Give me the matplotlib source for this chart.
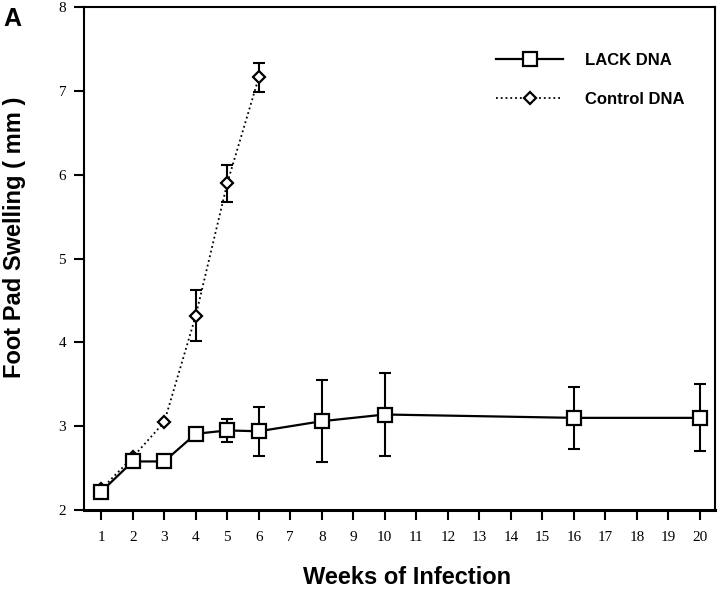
import matplotlib
matplotlib.use('Agg')
import matplotlib.pyplot as plt

# data
weeks_lack = [1, 2, 3, 4, 5, 6, 8, 10, 16, 20]
swell_lack = [2.22, 2.58, 2.58, 2.91, 2.95, 2.94, 3.06, 3.14, 3.10, 3.10]
err_lack = [0, 0, 0, 0, 0.14, 0.29, 0.49, 0.50, 0.37, 0.40]

weeks_ctrl = [1, 2, 3, 4, 5, 6]
swell_ctrl = [2.25, 2.63, 3.05, 4.32, 5.90, 7.16]
err_ctrl = [0, 0, 0, 0.30, 0.22, 0.17]

xticks = list(range(1, 21))
yticks = [2, 3, 4, 5, 6, 7, 8]

fig = plt.figure(figsize=(7.2, 5.89), dpi=100)
ax = fig.add_axes([0.117, 0.134, 0.876, 0.854])

ax.errorbar(weeks_ctrl, swell_ctrl, yerr=err_ctrl, fmt='none', ecolor='black',
            elinewidth=1.5, capsize=4.5, capthick=1.5, zorder=2)
ax.plot(weeks_ctrl, swell_ctrl, linestyle=':', color='black', linewidth=1.3,
        marker='D', markersize=6, markerfacecolor='white', markeredgecolor='black',
        markeredgewidth=1.6, label='Control DNA', zorder=3)

ax.errorbar(weeks_lack, swell_lack, yerr=err_lack, fmt='none', ecolor='black',
            elinewidth=1.5, capsize=4.5, capthick=1.5, zorder=4)
ax.plot(weeks_lack, swell_lack, linestyle='-', color='black', linewidth=1.6,
        marker='s', markersize=10, markerfacecolor='white', markeredgecolor='black',
        markeredgewidth=1.6, label='LACK DNA', zorder=5)

ax.set_xlim(0.46, 20.48)
ax.set_ylim(2, 8)
ax.set_xticks(xticks)
ax.set_yticks(yticks)

tick_font = {'family': 'Liberation Serif', 'size': 11}
ax.set_xticklabels([str(t) for t in xticks], fontdict=tick_font)
ax.set_yticklabels([str(t) for t in yticks], fontdict=tick_font)
ax.tick_params(axis='both', direction='out', length=7, width=1.5, color='black')
ax.tick_params(axis='x', pad=8)
ax.tick_params(axis='y', pad=6)

for side in ['left', 'top', 'right']:
    ax.spines[side].set_linewidth(1.5)
ax.spines['bottom'].set_linewidth(2.2)

ax.set_xlabel('Weeks of Infection', fontsize=17, fontweight='bold',
              family='Liberation Sans')
ax.xaxis.set_label_coords(0.512, -0.112)
ax.set_ylabel('Foot Pad Swelling ( mm )', fontsize=17, fontweight='bold',
              family='Liberation Sans')
ax.yaxis.set_label_coords(-0.092, 0.543)

handles, labels = ax.get_legend_handles_labels()
leg = ax.legend(handles[::-1], labels[::-1], loc='upper left', frameon=False,
                bbox_to_anchor=(0.643, 0.922), borderaxespad=0,
                handlelength=4, handletextpad=1.3, labelspacing=1.45,
                prop={'family': 'Liberation Sans', 'weight': 'bold', 'size': 12})

fig.text(0.004, 0.988, 'A', fontsize=18, fontweight='bold', family='Liberation Sans',
         va='top', ha='left')

fig.savefig('out.png', dpi=100)
